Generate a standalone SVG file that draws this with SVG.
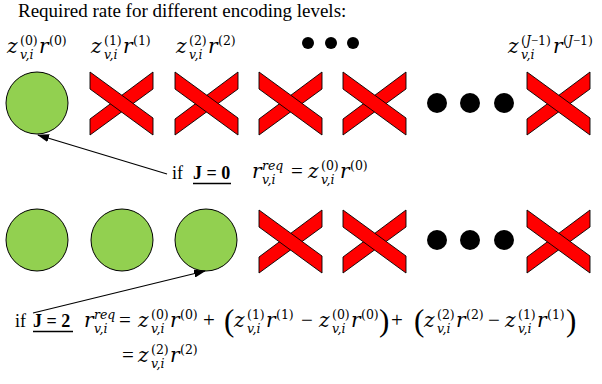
<svg xmlns="http://www.w3.org/2000/svg" width="602" height="384" viewBox="0 0 602 384">
<style>
.t{font-family:"Liberation Serif","Times New Roman",serif;fill:#000}
.b{font-family:"Liberation Serif","Times New Roman",serif;font-weight:bold;fill:#000}
.m{font-family:"DejaVu Serif",serif;font-style:italic;font-size:20px;fill:#000}
.op{font-family:"Liberation Serif","Times New Roman",serif;font-size:21px;fill:#000}
.p{font-family:"Liberation Serif","Times New Roman",serif;font-size:31px;fill:#000}
.s{font-family:"DejaVu Serif",serif;font-size:12.5px;fill:#000}
.si{font-family:"DejaVu Serif",serif;font-style:italic;font-size:12.5px;fill:#000}
.lm{font-family:"Liberation Serif","Times New Roman",serif}
.circ{fill:#92D050;stroke:#000;stroke-width:1}
.band{fill:#FF0000;stroke:#000;stroke-width:0.9}
.dot{fill:#000}
.conn{stroke:#000;stroke-width:1.2;fill:none}
</style>
<defs>
<g id="cross">
<polygon class="band" points="0,47 63,0 63,17 0,63"/>
<polygon class="band" points="0,0 63,46 63,63 0,17"/>
</g>
<marker id="ah" markerWidth="12" markerHeight="8" refX="11" refY="4" orient="auto" markerUnits="userSpaceOnUse">
<polygon points="0,0 12,4 0,8" fill="#000"/>
</marker>
</defs>

<text class="t" x="18" y="17" font-size="19">Required rate for different encoding levels:</text>

<g id="label-0" transform="translate(7,53)">
<text class="m" x="0" y="0">z</text><text class="s" x="13" y="-8">(0)</text><text class="si" x="13" y="6">v,i</text>
<text class="m" x="32" y="0">r</text><text class="s" x="42" y="-8">(0)</text>
</g>
<g id="label-1" transform="translate(91,53)">
<text class="m" x="0" y="0">z</text><text class="s" x="13" y="-8">(1)</text><text class="si" x="13" y="6">v,i</text>
<text class="m" x="32" y="0">r</text><text class="s" x="42" y="-8">(1)</text>
</g>
<g id="label-2" transform="translate(176,53)">
<text class="m" x="0" y="0">z</text><text class="s" x="13" y="-8">(2)</text><text class="si" x="13" y="6">v,i</text>
<text class="m" x="32" y="0">r</text><text class="s" x="42" y="-8">(2)</text>
</g>
<g id="label-top-dots">
<circle class="dot" cx="308" cy="43" r="6"/><circle class="dot" cx="331" cy="43" r="6"/><circle class="dot" cx="353" cy="43" r="6"/>
</g>
<g id="label-J" transform="translate(508,53)">
<text class="m" x="0" y="0">z</text><text class="s" x="13" y="-8">(<tspan font-style="italic">J</tspan><tspan class="lm">−</tspan>1)</text><text class="si" x="13" y="6">v,i</text>
<text class="m" x="45" y="0">r</text><text class="s" x="55" y="-8">(<tspan font-style="italic">J</tspan><tspan class="lm">−</tspan>1)</text>
</g>

<g id="row1">
<circle id="r1-c0" class="circ" cx="37" cy="103" r="31"/>
<use id="r1-x1" href="#cross" x="90" y="72"/>
<use id="r1-x2" href="#cross" x="175" y="72"/>
<use id="r1-x3" href="#cross" x="259" y="72"/>
<use id="r1-x4" href="#cross" x="343" y="72"/>
<g id="r1-dots"><circle class="dot" cx="437" cy="103" r="10"/><circle class="dot" cx="470" cy="103" r="10"/><circle class="dot" cx="504" cy="103" r="10"/></g>
<use id="r1-x5" href="#cross" x="527" y="72"/>
</g>

<g id="row2">
<circle id="r2-c0" class="circ" cx="37" cy="240" r="31"/>
<circle id="r2-c1" class="circ" cx="122" cy="240" r="31"/>
<circle id="r2-c2" class="circ" cx="206" cy="240" r="31"/>
<use id="r2-x3" href="#cross" x="259" y="210"/>
<use id="r2-x4" href="#cross" x="343" y="210"/>
<g id="r2-dots"><circle class="dot" cx="437" cy="240" r="10"/><circle class="dot" cx="470" cy="240" r="10"/><circle class="dot" cx="504" cy="240" r="10"/></g>
<use id="r2-x5" href="#cross" x="527" y="210"/>
</g>

<g id="connectors">
<line class="conn" x1="167" y1="174" x2="38" y2="135" marker-end="url(#ah)"/>
<line class="conn" x1="33" y1="313" x2="205" y2="271" marker-end="url(#ah)"/>
</g>

<g id="eq-J0">
<text class="t" x="172" y="179" font-size="18">if</text>
<text class="b" x="193" y="179" font-size="18">J = 0</text>
<line x1="193" y1="183.5" x2="231" y2="183.5" stroke="#000" stroke-width="1.3"/>
<g transform="translate(252,178)">
<text class="m" x="0" y="0">r</text><text class="si" x="10" y="-8">req</text><text class="si" x="10" y="6">v,i</text>
</g>
<text class="op" x="291" y="178">=</text>
<g transform="translate(308,178)">
<text class="m" x="0" y="0">z</text><text class="s" x="13" y="-8">(0)</text><text class="si" x="13" y="6">v,i</text>
<text class="m" x="32" y="0">r</text><text class="s" x="42" y="-8">(0)</text>
</g>
</g>

<g id="eq-J2">
<text class="t" x="15" y="327" font-size="18">if</text>
<text class="b" x="33" y="327" font-size="18">J = 2</text>
<line x1="33" y1="331.5" x2="73" y2="331.5" stroke="#000" stroke-width="1.3"/>
<g transform="translate(84,327)">
<text class="m" x="0" y="0">r</text><text class="si" x="10" y="-8">req</text><text class="si" x="10" y="6">v,i</text>
</g>
<text class="op" x="119" y="327">=</text>
<g transform="translate(138,327)">
<text class="m" x="0" y="0">z</text><text class="s" x="13" y="-8">(0)</text><text class="si" x="13" y="6">v,i</text>
<text class="m" x="32" y="0">r</text><text class="s" x="42" y="-8">(0)</text>
</g>
<text class="op" x="203" y="327">+</text>
<text class="p" x="224" y="331">(</text>
<g transform="translate(234,327)">
<text class="m" x="0" y="0">z</text><text class="s" x="13" y="-8">(1)</text><text class="si" x="13" y="6">v,i</text>
<text class="m" x="32" y="0">r</text><text class="s" x="42" y="-8">(1)</text>
</g>
<text class="op" x="301" y="327">−</text>
<g transform="translate(319,327)">
<text class="m" x="0" y="0">z</text><text class="s" x="13" y="-8">(0)</text><text class="si" x="13" y="6">v,i</text>
<text class="m" x="32" y="0">r</text><text class="s" x="42" y="-8">(0)</text>
</g>
<text class="p" x="379" y="331">)</text>
<text class="op" x="391" y="327">+</text>
<text class="p" x="414" y="331">(</text>
<g transform="translate(424,327)">
<text class="m" x="0" y="0">z</text><text class="s" x="13" y="-8">(2)</text><text class="si" x="13" y="6">v,i</text>
<text class="m" x="32" y="0">r</text><text class="s" x="42" y="-8">(2)</text>
</g>
<text class="op" x="488" y="327">−</text>
<g transform="translate(505,327)">
<text class="m" x="0" y="0">z</text><text class="s" x="13" y="-8">(1)</text><text class="si" x="13" y="6">v,i</text>
<text class="m" x="32" y="0">r</text><text class="s" x="42" y="-8">(1)</text>
</g>
<text class="p" x="566" y="331">)</text>
<text class="op" x="122" y="362">=</text>
<g transform="translate(138,362)">
<text class="m" x="0" y="0">z</text><text class="s" x="13" y="-8">(2)</text><text class="si" x="13" y="6">v,i</text>
<text class="m" x="32" y="0">r</text><text class="s" x="42" y="-8">(2)</text>
</g>
</g>
</svg>
